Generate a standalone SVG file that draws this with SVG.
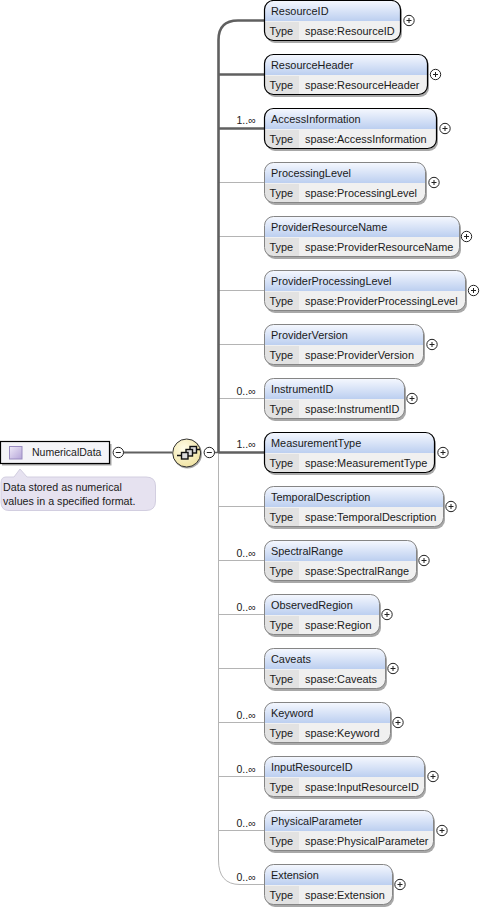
<svg xmlns="http://www.w3.org/2000/svg" width="481" height="910" viewBox="0 0 481 910">
<style>
text{font-family:"Liberation Sans",Arial,sans-serif;font-size:10.9px;fill:#1a1a1a}
.thin{stroke:#b4b4b4;stroke-width:1;fill:none}
.thick{stroke:#606060;stroke-width:2.6;fill:none}
.box{fill:none;stroke:#858585;stroke-width:1}
.req{fill:none;stroke:#000;stroke-width:1.2}
.bg{fill:#f0f0f0}
.sh{fill:#a8a8a8}
.hd{fill:url(#hg)}
.tp{fill:#e2e2e2}
.pm{fill:#fff;stroke:#222;stroke-width:1}
.pl{stroke:#222;stroke-width:1;fill:none}
text.card{font-size:10.5px}
text.nt{font-size:10.7px}
text.root{font-size:10.5px}
</style>
<defs>
<linearGradient id="hg" x1="0" y1="0" x2="0" y2="1"><stop offset="0" stop-color="#f4f7fe"/><stop offset="1" stop-color="#bccff0"/></linearGradient>
<linearGradient id="sq" x1="0" y1="0" x2="1" y2="1"><stop offset="0" stop-color="#efeaf8"/><stop offset="1" stop-color="#b4a4d8"/></linearGradient>
<radialGradient id="seq" cx="0.4" cy="0.35" r="0.7"><stop offset="0" stop-color="#fffde8"/><stop offset="1" stop-color="#f0e2a0"/></radialGradient>
<g id="plus"><circle r="5.2" class="pm"/><path d="M-2.500 0H2.500M0 -2.500V2.500" class="pl"/></g>
<g id="minus"><circle r="5.2" class="pm"/><path d="M-2.500 0H2.500" class="pl"/></g>
</defs>
<g id="connectors">
<path class="thin" d="M218.500 182V860Q218.500 884.500 240 884.500H264"/>
<path class="thin" d="M218.500 182.500H264M218.500 236.500H264M218.500 290.500H264M218.500 344.500H264M218.500 398.500H264M218.500 506.500H264M218.500 560.500H264M218.500 614.500H264M218.500 668.500H264M218.500 722.500H264M218.500 776.500H264M218.500 830.500H264"/>
<path class="thick" d="M264 20.500H238Q218.500 20.500 218.500 40V453"/>
<path class="thick" d="M218.500 74.500H264M218.500 128.500H264M218.500 452.500H264"/>
<path d="M204 452.500H219" stroke="#606060" stroke-width="1.500"/>
<path d="M123 452.500H172" stroke="#606060" stroke-width="2"/>
</g>
<g id="cards">
<text class="card" x="236.500" y="124">1..∞</text>
<text class="card" x="236.500" y="395">0..∞</text>
<text class="card" x="236.500" y="448">1..∞</text>
<text class="card" x="236.500" y="557">0..∞</text>
<text class="card" x="236.500" y="611">0..∞</text>
<text class="card" x="236.500" y="719">0..∞</text>
<text class="card" x="236.500" y="773">0..∞</text>
<text class="card" x="236.500" y="827">0..∞</text>
<text class="card" x="236.500" y="881">0..∞</text>
</g>
<g id="NumericalData">
<rect x="2" y="444" width="109.500" height="21.500" fill="#a8a8a8"/>
<rect x="0.500" y="441.500" width="109" height="22" fill="#f4f4f8" stroke="#000" stroke-width="1.200"/>
<rect x="9.500" y="446.500" width="12.500" height="12.500" fill="url(#sq)" stroke="#9a8cc0"/>
<text class="root" x="32" y="456">NumericalData</text>
<use href="#minus" x="118.300" y="452.500"/>
</g>
<g id="note">
<path d="M6 477H14L20 469L27 477H146Q155.500 477 155.500 486V501Q155.500 510.500 146 510.500H9Q1 510.500 1 502V483Q1 477 6 477Z" fill="#e6e2f0" stroke="#d2cee0"/>
<text class="nt" x="3" y="491">Data stored as numerical</text>
<text class="nt" x="3" y="505">values in a specified format.</text>
</g>
<g id="sequence">
<circle cx="187.500" cy="454" r="14.500" fill="#a8a8a8"/>
<circle cx="186.700" cy="453" r="14" fill="url(#seq)" stroke="#333" stroke-width="1"/>
<g fill="#dcdcdc" stroke="#111" stroke-width="1.400"><rect x="190" y="446.500" width="6.500" height="6.500"/><rect x="186" y="449.500" width="6.500" height="6.500"/><rect x="181.500" y="452.500" width="6.500" height="6.500"/></g>
<path d="M177 455.500H181.500M196.500 449.500H200" stroke="#111" stroke-width="1.500"/>
<use href="#minus" x="209.300" y="452.500"/>
</g>
<g id="ResourceID"><rect class="sh" x="266" y="3" width="136" height="40" rx="9"/><rect class="bg" x="264.500" y="0.500" width="136" height="40" rx="9"/><path class="hd" d="M265 21V9Q265 1 273 1H392Q400 1 400 9V21Z"/><path class="tp" d="M265 22H299V40H273Q265 40 265 32Z"/><rect class="req" x="264.500" y="0.500" width="136" height="40" rx="9"/><text x="271" y="15">ResourceID</text><text x="269.500" y="35">Type</text><text x="305" y="35">spase:ResourceID</text><use href="#plus" x="409" y="20.500"/></g>
<g id="ResourceHeader"><rect class="sh" x="266" y="57" width="163" height="40" rx="9"/><rect class="bg" x="264.500" y="54.500" width="163" height="40" rx="9"/><path class="hd" d="M265 75V63Q265 55 273 55H419Q427 55 427 63V75Z"/><path class="tp" d="M265 76H299V94H273Q265 94 265 86Z"/><rect class="req" x="264.500" y="54.500" width="163" height="40" rx="9"/><text x="271" y="69">ResourceHeader</text><text x="269.500" y="89">Type</text><text x="305" y="89">spase:ResourceHeader</text><use href="#plus" x="435.500" y="74.500"/></g>
<g id="AccessInformation"><rect class="sh" x="266" y="111" width="172" height="40" rx="9"/><rect class="bg" x="264.500" y="108.500" width="172" height="40" rx="9"/><path class="hd" d="M265 129V117Q265 109 273 109H428Q436 109 436 117V129Z"/><path class="tp" d="M265 130H299V148H273Q265 148 265 140Z"/><rect class="req" x="264.500" y="108.500" width="172" height="40" rx="9"/><text x="271" y="123">AccessInformation</text><text x="269.500" y="143">Type</text><text x="305" y="143">spase:AccessInformation</text><use href="#plus" x="445" y="128.500"/></g>
<g id="ProcessingLevel"><rect class="sh" x="266" y="165" width="161" height="40" rx="9"/><rect class="bg" x="264.500" y="162.500" width="161" height="40" rx="9"/><path class="hd" d="M265 183V171Q265 163 273 163H417Q425 163 425 171V183Z"/><path class="tp" d="M265 184H299V202H273Q265 202 265 194Z"/><rect class="box" x="264.500" y="162.500" width="161" height="40" rx="9"/><text x="271" y="177">ProcessingLevel</text><text x="269.500" y="197">Type</text><text x="305" y="197">spase:ProcessingLevel</text><use href="#plus" x="434" y="182.500"/></g>
<g id="ProviderResourceName"><rect class="sh" x="266" y="219" width="195" height="40" rx="9"/><rect class="bg" x="264.500" y="216.500" width="195" height="40" rx="9"/><path class="hd" d="M265 237V225Q265 217 273 217H451Q459 217 459 225V237Z"/><path class="tp" d="M265 238H299V256H273Q265 256 265 248Z"/><rect class="box" x="264.500" y="216.500" width="195" height="40" rx="9"/><text x="271" y="231">ProviderResourceName</text><text x="269.500" y="251">Type</text><text x="305" y="251">spase:ProviderResourceName</text><use href="#plus" x="466.500" y="236.500"/></g>
<g id="ProviderProcessingLevel"><rect class="sh" x="266" y="273" width="201" height="40" rx="9"/><rect class="bg" x="264.500" y="270.500" width="201" height="40" rx="9"/><path class="hd" d="M265 291V279Q265 271 273 271H457Q465 271 465 279V291Z"/><path class="tp" d="M265 292H299V310H273Q265 310 265 302Z"/><rect class="box" x="264.500" y="270.500" width="201" height="40" rx="9"/><text x="271" y="285">ProviderProcessingLevel</text><text x="269.500" y="305">Type</text><text x="305" y="305">spase:ProviderProcessingLevel</text><use href="#plus" x="473.500" y="290.500"/></g>
<g id="ProviderVersion"><rect class="sh" x="266" y="327" width="159" height="40" rx="9"/><rect class="bg" x="264.500" y="324.500" width="159" height="40" rx="9"/><path class="hd" d="M265 345V333Q265 325 273 325H415Q423 325 423 333V345Z"/><path class="tp" d="M265 346H299V364H273Q265 364 265 356Z"/><rect class="box" x="264.500" y="324.500" width="159" height="40" rx="9"/><text x="271" y="339">ProviderVersion</text><text x="269.500" y="359">Type</text><text x="305" y="359">spase:ProviderVersion</text><use href="#plus" x="432" y="344.500"/></g>
<g id="InstrumentID"><rect class="sh" x="266" y="381" width="140" height="40" rx="9"/><rect class="bg" x="264.500" y="378.500" width="140" height="40" rx="9"/><path class="hd" d="M265 399V387Q265 379 273 379H396Q404 379 404 387V399Z"/><path class="tp" d="M265 400H299V418H273Q265 418 265 410Z"/><rect class="box" x="264.500" y="378.500" width="140" height="40" rx="9"/><text x="271" y="393">InstrumentID</text><text x="269.500" y="413">Type</text><text x="305" y="413">spase:InstrumentID</text><use href="#plus" x="412" y="398.500"/></g>
<g id="MeasurementType"><rect class="sh" x="266" y="435" width="170" height="40" rx="9"/><rect class="bg" x="264.500" y="432.500" width="170" height="40" rx="9"/><path class="hd" d="M265 453V441Q265 433 273 433H426Q434 433 434 441V453Z"/><path class="tp" d="M265 454H299V472H273Q265 472 265 464Z"/><rect class="req" x="264.500" y="432.500" width="170" height="40" rx="9"/><text x="271" y="447">MeasurementType</text><text x="269.500" y="467">Type</text><text x="305" y="467">spase:MeasurementType</text><use href="#plus" x="443" y="452.500"/></g>
<g id="TemporalDescription"><rect class="sh" x="266" y="489" width="179" height="40" rx="9"/><rect class="bg" x="264.500" y="486.500" width="179" height="40" rx="9"/><path class="hd" d="M265 507V495Q265 487 273 487H435Q443 487 443 495V507Z"/><path class="tp" d="M265 508H299V526H273Q265 526 265 518Z"/><rect class="box" x="264.500" y="486.500" width="179" height="40" rx="9"/><text x="271" y="501">TemporalDescription</text><text x="269.500" y="521">Type</text><text x="305" y="521">spase:TemporalDescription</text><use href="#plus" x="451" y="506.500"/></g>
<g id="SpectralRange"><rect class="sh" x="266" y="543" width="152" height="40" rx="9"/><rect class="bg" x="264.500" y="540.500" width="152" height="40" rx="9"/><path class="hd" d="M265 561V549Q265 541 273 541H408Q416 541 416 549V561Z"/><path class="tp" d="M265 562H299V580H273Q265 580 265 572Z"/><rect class="box" x="264.500" y="540.500" width="152" height="40" rx="9"/><text x="271" y="555">SpectralRange</text><text x="269.500" y="575">Type</text><text x="305" y="575">spase:SpectralRange</text><use href="#plus" x="424" y="560.500"/></g>
<g id="ObservedRegion"><rect class="sh" x="266" y="597" width="115" height="40" rx="9"/><rect class="bg" x="264.500" y="594.500" width="115" height="40" rx="9"/><path class="hd" d="M265 615V603Q265 595 273 595H371Q379 595 379 603V615Z"/><path class="tp" d="M265 616H299V634H273Q265 634 265 626Z"/><rect class="box" x="264.500" y="594.500" width="115" height="40" rx="9"/><text x="271" y="609">ObservedRegion</text><text x="269.500" y="629">Type</text><text x="305" y="629">spase:Region</text><use href="#plus" x="387" y="614.500"/></g>
<g id="Caveats"><rect class="sh" x="266" y="651" width="121" height="40" rx="9"/><rect class="bg" x="264.500" y="648.500" width="121" height="40" rx="9"/><path class="hd" d="M265 669V657Q265 649 273 649H377Q385 649 385 657V669Z"/><path class="tp" d="M265 670H299V688H273Q265 688 265 680Z"/><rect class="box" x="264.500" y="648.500" width="121" height="40" rx="9"/><text x="271" y="663">Caveats</text><text x="269.500" y="683">Type</text><text x="305" y="683">spase:Caveats</text><use href="#plus" x="393" y="668.500"/></g>
<g id="Keyword"><rect class="sh" x="266" y="705" width="126" height="40" rx="9"/><rect class="bg" x="264.500" y="702.500" width="126" height="40" rx="9"/><path class="hd" d="M265 723V711Q265 703 273 703H382Q390 703 390 711V723Z"/><path class="tp" d="M265 724H299V742H273Q265 742 265 734Z"/><rect class="box" x="264.500" y="702.500" width="126" height="40" rx="9"/><text x="271" y="717">Keyword</text><text x="269.500" y="737">Type</text><text x="305" y="737">spase:Keyword</text><use href="#plus" x="398" y="722.500"/></g>
<g id="InputResourceID"><rect class="sh" x="266" y="759" width="160" height="40" rx="9"/><rect class="bg" x="264.500" y="756.500" width="160" height="40" rx="9"/><path class="hd" d="M265 777V765Q265 757 273 757H416Q424 757 424 765V777Z"/><path class="tp" d="M265 778H299V796H273Q265 796 265 788Z"/><rect class="box" x="264.500" y="756.500" width="160" height="40" rx="9"/><text x="271" y="771">InputResourceID</text><text x="269.500" y="791">Type</text><text x="305" y="791">spase:InputResourceID</text><use href="#plus" x="433" y="776.500"/></g>
<g id="PhysicalParameter"><rect class="sh" x="266" y="813" width="169" height="40" rx="9"/><rect class="bg" x="264.500" y="810.500" width="169" height="40" rx="9"/><path class="hd" d="M265 831V819Q265 811 273 811H425Q433 811 433 819V831Z"/><path class="tp" d="M265 832H299V850H273Q265 850 265 842Z"/><rect class="box" x="264.500" y="810.500" width="169" height="40" rx="9"/><text x="271" y="825">PhysicalParameter</text><text x="269.500" y="845">Type</text><text x="305" y="845">spase:PhysicalParameter</text><use href="#plus" x="442" y="830.500"/></g>
<g id="Extension"><rect class="sh" x="266" y="867" width="128" height="40" rx="9"/><rect class="bg" x="264.500" y="864.500" width="128" height="40" rx="9"/><path class="hd" d="M265 885V873Q265 865 273 865H384Q392 865 392 873V885Z"/><path class="tp" d="M265 886H299V904H273Q265 904 265 896Z"/><rect class="box" x="264.500" y="864.500" width="128" height="40" rx="9"/><text x="271" y="879">Extension</text><text x="269.500" y="899">Type</text><text x="305" y="899">spase:Extension</text><use href="#plus" x="400" y="884.500"/></g>
</svg>
